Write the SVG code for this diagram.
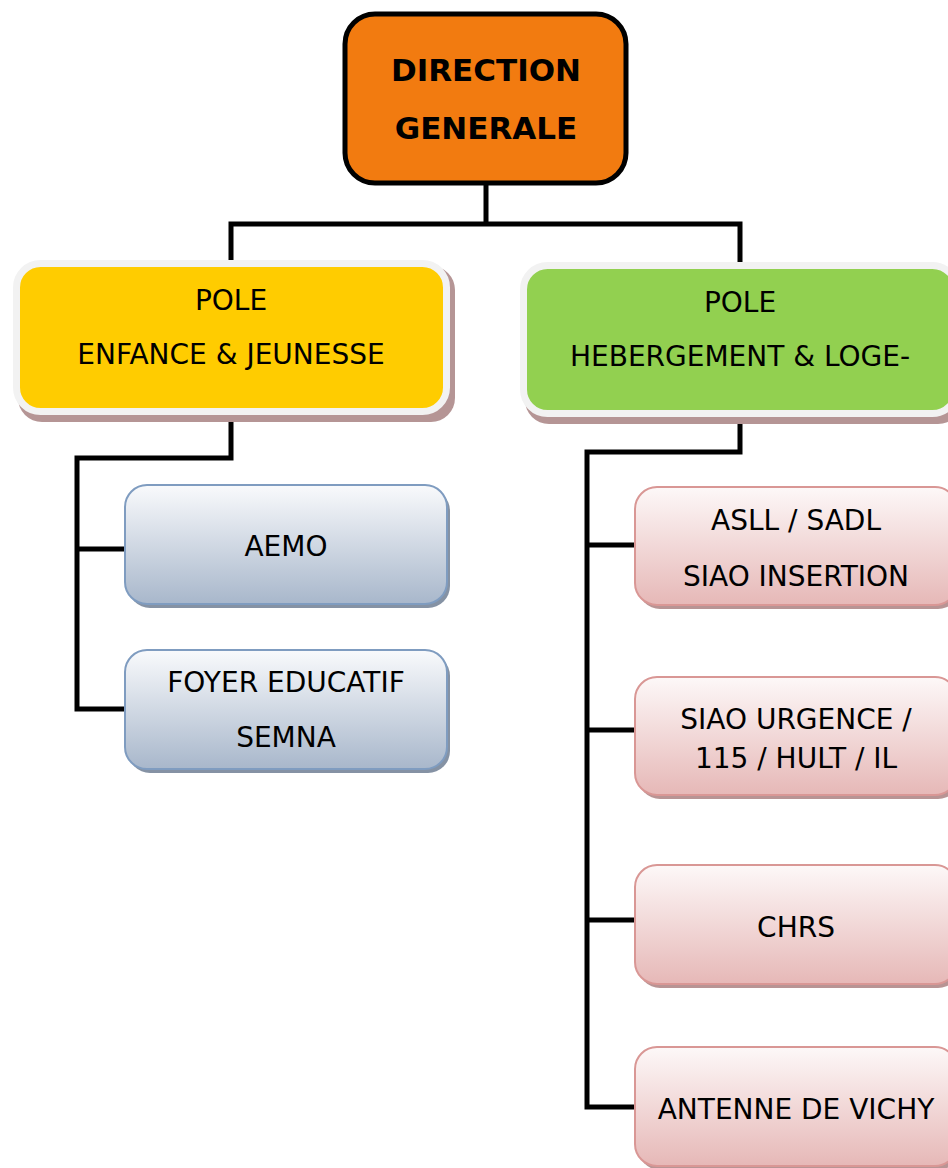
<svg xmlns="http://www.w3.org/2000/svg" width="948" height="1168" viewBox="0 0 948 1168">
<defs>
<linearGradient id="gBlue" x1="0" y1="0" x2="0" y2="1">
<stop offset="0" stop-color="#F9FAFC"/><stop offset="1" stop-color="#A8B7CB"/>
</linearGradient>
<linearGradient id="gPink" x1="0" y1="0" x2="0" y2="1">
<stop offset="0" stop-color="#FDF8F8"/><stop offset="1" stop-color="#E6B8B7"/>
</linearGradient>
<style>
.t{font-family:"DejaVu Sans",Verdana,sans-serif;font-size:28px;fill:#000;text-anchor:middle}
.tb{font-family:"DejaVu Sans",Verdana,sans-serif;font-size:31px;font-weight:bold;fill:#000;text-anchor:middle}
.line{fill:none;stroke:#000;stroke-width:5;stroke-linejoin:miter;stroke-linecap:square}
.blue{fill:url(#gBlue);stroke:#7F9CC0;stroke-width:2}
.pink{fill:url(#gPink);stroke:#D99795;stroke-width:2}
.shB{fill:#8592A4}
.shP{fill:#B89494}
.shPole{fill:#B59595}
</style>
</defs>
<rect width="948" height="1168" fill="#FFFFFF"/>
<g id="connectors">
<path class="line" d="M486 186 V224 H231 V262 M486 224 H740 V263"/>
<path class="line" d="M231 416 V458 H77 V709 H125 M77 549 H125"/>
<path class="line" d="M740 418 V452 H587 V1107 H635 M587 545 H635 M587 730 H635 M587 920 H635"/>
</g>
<g id="direction">
<rect x="345" y="14" width="281" height="169" rx="30" fill="#F27B10" stroke="#000" stroke-width="5"/>
<text class="tb" x="486" y="81">DIRECTION</text>
<text class="tb" x="486" y="139">GENERALE</text>
</g>
<g id="pole-enfance">
<rect x="18" y="266" width="437" height="156" rx="24" class="shPole"/>
<rect x="16.5" y="263.5" width="430" height="148" rx="24" fill="#FFCC00" stroke="#F2F2F2" stroke-width="7"/>
<text class="t" x="231" y="310">POLE</text>
<text class="t" x="231" y="364">ENFANCE &amp; JEUNESSE</text>
</g>
<g id="pole-hebergement">
<rect x="525" y="268" width="437" height="156" rx="24" class="shPole"/>
<rect x="523.5" y="265.5" width="433" height="148" rx="24" fill="#92D050" stroke="#F2F2F2" stroke-width="7"/>
<text class="t" x="740" y="312">POLE</text>
<text class="t" x="740" y="366">HEBERGEMENT &amp; LOGE-</text>
</g>
<g id="aemo">
<rect x="128" y="489" width="322" height="119" rx="22" class="shB"/>
<rect x="125" y="485" width="322" height="119" rx="22" class="blue"/>
<text class="t" x="286" y="556">AEMO</text>
</g>
<g id="foyer">
<rect x="128" y="654" width="322" height="119" rx="22" class="shB"/>
<rect x="125" y="650" width="322" height="119" rx="22" class="blue"/>
<text class="t" x="286" y="692">FOYER EDUCATIF</text>
<text class="t" x="286" y="747">SEMNA</text>
</g>
<g id="asll">
<rect x="638" y="491" width="322" height="118" rx="22" class="shP"/>
<rect x="635" y="487" width="322" height="118" rx="22" class="pink"/>
<text class="t" x="796" y="530">ASLL / SADL</text>
<text class="t" x="796" y="586">SIAO INSERTION</text>
</g>
<g id="siao-urgence">
<rect x="638" y="681" width="322" height="118" rx="22" class="shP"/>
<rect x="635" y="677" width="322" height="118" rx="22" class="pink"/>
<text class="t" x="796" y="729">SIAO URGENCE /</text>
<text class="t" x="796" y="768">115 / HULT / IL</text>
</g>
<g id="chrs">
<rect x="638" y="869" width="322" height="119" rx="22" class="shP"/>
<rect x="635" y="865" width="322" height="119" rx="22" class="pink"/>
<text class="t" x="796" y="937">CHRS</text>
</g>
<g id="antenne">
<rect x="638" y="1051" width="322" height="119" rx="22" class="shP"/>
<rect x="635" y="1047" width="322" height="119" rx="22" class="pink"/>
<text class="t" x="796" y="1119">ANTENNE DE VICHY</text>
</g>
</svg>
